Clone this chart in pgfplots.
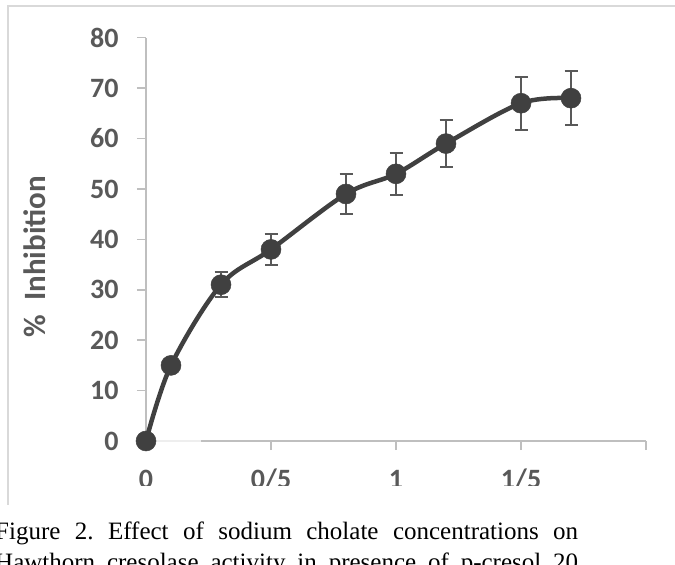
\documentclass[border=0pt]{standalone}
\usepackage{pgfplots}
\pgfplotsset{compat=1.18}
\usepackage{pgfplotstable}
\usepackage{fontspec}
\setmainfont{Carlito}
\newfontfamily\capfont{Liberation Serif}
\frenchspacing

\definecolor{linegray}{HTML}{404040}
\definecolor{labelgray}{HTML}{595959}
\definecolor{axisgray}{HTML}{BFBFBF}
\definecolor{framegray}{HTML}{D9D9D9}
\definecolor{fadegray}{HTML}{EEEEEE}

% concentration, % inhibition, error
\pgfplotstableread{
x    y   e
0    0   0
0.1  15  0
0.3  31  2.5
0.5  38  3.0
0.8  49  3.9
1.0  53  4.2
1.2  59  4.7
1.5  67  5.3
1.7  68  5.4
}\inhibition

\begin{document}
\begin{tikzpicture}
\useasboundingbox (0pt,0pt) rectangle (675pt,565pt);
\clip (0pt,0pt) rectangle (675pt,565pt);
% chart frame
\draw[framegray, line width=1.5pt] (8pt,60pt) -- (8pt,559pt) -- (700pt,559pt);
\begin{scope}
\clip (0pt,79pt) rectangle (675pt,565pt);
\begin{axis}[
  at={(146pt,124pt)}, anchor=south west,
  scale only axis, width=500pt, height=403.3pt,
  xmin=0, xmax=2, ymin=0, ymax=80,
  xtick={0,0.5,1,1.5,2}, xticklabels={0,0/5,1,1/5,{}},
  ytick={0,10,...,80},
  axis lines*=left,
  axis line style={axisgray, line width=1.5pt},
  tick style={axisgray, line width=1.5pt},
  major tick length=9pt, tick align=outside,
  clip=false,
  /pgf/number format/assume math mode=true,
  tick label style={font=\fontsize{28}{28}\selectfont\bfseries, text=labelgray},
  yticklabel style={xshift=-15pt},
  xticklabel style={text height=18pt, text depth=0pt, yshift=-16.5pt},
  ylabel={\%\ \ Inhibition},
  ylabel style={at={(rel axis cs:-0.222,0.457)}, anchor=center,
    font=\fontsize{31}{31}\selectfont\bfseries, text=labelgray},
]
\draw[fadegray, line width=1.6pt] (axis cs:0,0) -- (axis cs:0.22,0);
\addplot[smooth, tension=0.55, line width=4.5pt, color=linegray,
  mark=*, mark size=10pt, mark options={line width=0.5pt, fill=linegray, draw=linegray},
  error bars/.cd, y dir=both, y explicit,
  error bar style={line width=2pt, color=labelgray},
  error mark options={rotate=90, mark size=6.5pt, line width=2pt, color=labelgray}]
  table[x=x, y=y, y error=e] {\inhibition};
\end{axis}
\end{scope}
% caption
\node[anchor=base west, inner sep=0pt] at (-5pt,25pt)
  {\capfont\fontsize{25}{25}\selectfont\makebox[583pt][s]{Figure 2. Effect of sodium cholate concentrations on}};
\node[anchor=base west, inner sep=0pt] at (-5pt,-6pt)
  {\capfont\fontsize{25}{25}\selectfont\makebox[583pt][s]{Hawthorn cresolase activity in presence of p-cresol 20}};
\end{tikzpicture}
\end{document}
